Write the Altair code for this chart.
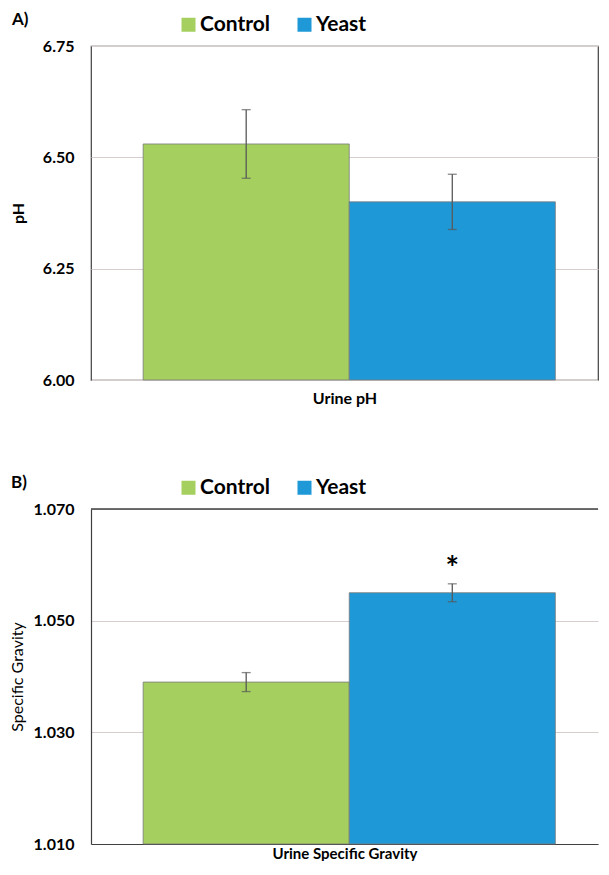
import altair as alt
import pandas as pd

groups = ["Control", "Yeast"]
colors = ["#A5CF5F", "#1E98D6"]

ph_mean = [6.53, 6.40]
ph_err = [0.077, 0.062]
ph_ticks = [6.00, 6.25, 6.50, 6.75]

sg_mean = [1.039, 1.055]
sg_err = [0.0017, 0.0016]
sg_ticks = [1.010, 1.030, 1.050, 1.070]
sg_marks = ["", "*"]

FONT = "Lato"
W = 507
FRAME = "#404040"


def panel(means, errs, ticks, fmt, ytitle, ytitle_weight, ytitle_x, xtitle,
          xtitle_pad, xtitle_size, letter, stars, full_frame, h):
    df = pd.DataFrame({
        "group": groups,
        "mean": means,
        "lo": [m - e for m, e in zip(means, errs)],
        "hi": [m + e for m, e in zip(means, errs)],
        "star": stars,
    })
    base = alt.Chart(df)
    xscale = alt.Scale(domain=groups, paddingInner=0, paddingOuter=0.23,
                       align=0.55)
    yscale = alt.Scale(domain=[ticks[0], ticks[-1]], nice=False, zero=False)
    x = alt.X("group:N", scale=xscale,
              axis=alt.Axis(labels=False, ticks=False, domain=not full_frame,
                            domainColor=FRAME, domainWidth=1.2, grid=False,
                            title=xtitle, titleFont=FONT,
                            titleFontSize=xtitle_size,
                            titleFontWeight="bold", titleColor="black",
                            titlePadding=xtitle_pad))
    y = alt.Y("mean:Q", scale=yscale,
              axis=alt.Axis(values=ticks, format=fmt, ticks=False,
                            domain=not full_frame, domainColor=FRAME,
                            domainWidth=1.2, grid=True, gridColor="#D8CDCD",
                            gridWidth=1.2, labelFont=FONT, labelFontSize=16,
                            labelFontWeight="bold", labelColor="black",
                            labelPadding=17, title=ytitle, titleFont=FONT,
                            titleFontSize=16, titleFontWeight=ytitle_weight,
                            titleColor="black", titleX=ytitle_x,
                            titleY=h / 2, titleAlign="center",
                            titleBaseline="middle", titleAngle=270))
    bars = base.mark_bar(stroke="#7a7a7a", strokeWidth=0.8).encode(
        x=x, y=y, y2=alt.datum(ticks[0]),
        color=alt.Color("group:N", scale=alt.Scale(domain=groups, range=colors),
                        legend=alt.Legend(title=None, orient="none",
                                          direction="horizontal",
                                          legendX=87, legendY=-32,
                                          symbolType="square", symbolSize=196,
                                          symbolStrokeWidth=0,
                                          labelFont=FONT, labelFontSize=21,
                                          labelFontWeight="bold",
                                          labelColor="black", labelOffset=1,
                                          columnPadding=23)))
    rules = base.mark_rule(color="#595959", strokeWidth=1.3).encode(
        x="group:N", y="lo:Q", y2="hi:Q")
    caps_lo = base.mark_tick(color="#595959", thickness=1.3, size=9).encode(
        x="group:N", y="lo:Q")
    caps_hi = base.mark_tick(color="#595959", thickness=1.3, size=9).encode(
        x="group:N", y="hi:Q")
    stars_t = base.mark_text(font=FONT, fontSize=32, fontWeight="bold",
                             baseline="alphabetic", dy=-4, color="black").encode(
        x="group:N", y="hi:Q", text="star:N")
    layers = [bars, rules, caps_lo, caps_hi, stars_t]
    if full_frame:
        view = alt.ViewBackground(stroke=FRAME, strokeWidth=1.2)
    else:
        top = base.mark_rule(color=FRAME, strokeWidth=1.2).encode(
            y=alt.datum(ticks[-1]))
        layers.append(top)
        view = alt.ViewBackground(stroke="transparent", strokeWidth=0)
    return alt.layer(*layers).properties(
        width=W, height=h, view=view,
        title=alt.TitleParams(text=letter, anchor="start", frame="bounds",
                              font=FONT, fontSize=17, fontWeight="bold",
                              color="black", baseline="top", dx=2, dy=15,
                              offset=0))


pa = panel(ph_mean, ph_err, ph_ticks, ".2f", "pH", "bold", -73, "Urine pH",
           10, 16, "A)", ["", ""], True, 334)
pb = panel(sg_mean, sg_err, sg_ticks, ".3f", "Specific Gravity", "normal", -74,
           "Urine Specific Gravity", 2, 15, "B)", sg_marks, False, 335)

chart = alt.vconcat(pa, pb, spacing=129, bounds="flush").resolve_scale(
    color="independent").properties(
    padding={"left": 1, "top": 2, "right": 0, "bottom": 0},
    background="white")

chart.save("out.html", embed_options={"renderer": "svg", "actions": False})
